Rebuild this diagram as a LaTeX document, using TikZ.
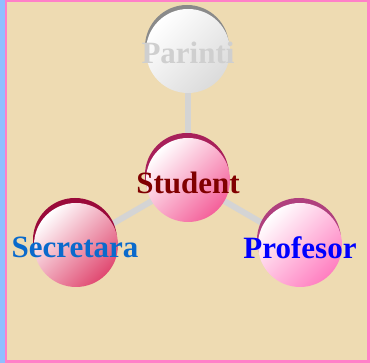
\documentclass[tikz,border=0pt]{standalone}
\usepackage{fontspec}
\setmainfont{Liberation Serif}
\usetikzlibrary{backgrounds}
\definecolor{parch}{HTML}{EEDBB2}
\definecolor{frame}{HTML}{FF80C8}
\definecolor{leftblue}{HTML}{8FBFFF}
\definecolor{conn}{HTML}{D4D4D4}
\definecolor{stushadow}{HTML}{A8205A}
\definecolor{stupink}{HTML}{F4609A}
\definecolor{secshadow}{HTML}{9A0A3A}
\definecolor{secpink}{HTML}{E04870}
\definecolor{proshadow}{HTML}{B0407E}
\definecolor{propink}{HTML}{FF7EC0}
\definecolor{parshadow}{HTML}{8A8A8A}
\definecolor{partext}{HTML}{CFCFCF}
\definecolor{stutext}{HTML}{800000}
\definecolor{sectext}{HTML}{0A6ACC}
\definecolor{protext}{HTML}{0000FF}
\tikzset{
  ball/.style={circle, minimum size=84pt, inner sep=0pt, top color=white, middle color=white!93!#1, bottom color=#1, shading angle=45},
  shade/.style={circle, minimum size=84pt, inner sep=0pt, fill=#1},
  lbl/.style={font=\bfseries\fontsize{31}{31}\selectfont, inner sep=0pt},
  link/.style={draw=conn, line width=6pt}
}
\begin{document}
\begin{tikzpicture}[x=1pt,y=-1pt]
\useasboundingbox (0,0) rectangle (370,363);
% shadows
\node[shade=parshadow] (parS) at (187,47) {};
\node[shade=stushadow] (stuS) at (187,175) {};
\node[shade=secshadow] (secS) at (75,240) {};
\node[shade=proshadow] (proS) at (299,240) {};
% balls
\node[ball=black!14] (par) at (188,51) {};
\node[ball=stupink] (stu) at (188,180) {};
\node[ball=secpink] (sec) at (76,245) {};
\node[ball=propink] (pro) at (300,245) {};
% labels
\node[lbl, text=partext] (parT) at (188,53) {Parinti};
\node[lbl, text=stutext] (stuT) at (188,183) {Student};
\node[lbl, text=sectext] (secT) at (75,247) {Secretara};
\node[lbl, text=protext] (proT) at (300,248) {Profesor};
\begin{scope}[on background layer]
  \fill[parch] (0,0) rectangle (370,363);
  \fill[frame] (0,0) rectangle (370,2.5);
  \fill[frame] (0,360.5) rectangle (370,363);
  \fill[frame] (367,0) rectangle (370,363);
  \fill[frame] (4.5,0) rectangle (7,363);
  \fill[leftblue] (0,0) rectangle (4.5,363);
  \draw[link] (stu.center) -- (par.center);
  \draw[link] (stu.center) -- (sec.center);
  \draw[link] (stu.center) -- (pro.center);
\end{scope}
\end{tikzpicture}
\end{document}
